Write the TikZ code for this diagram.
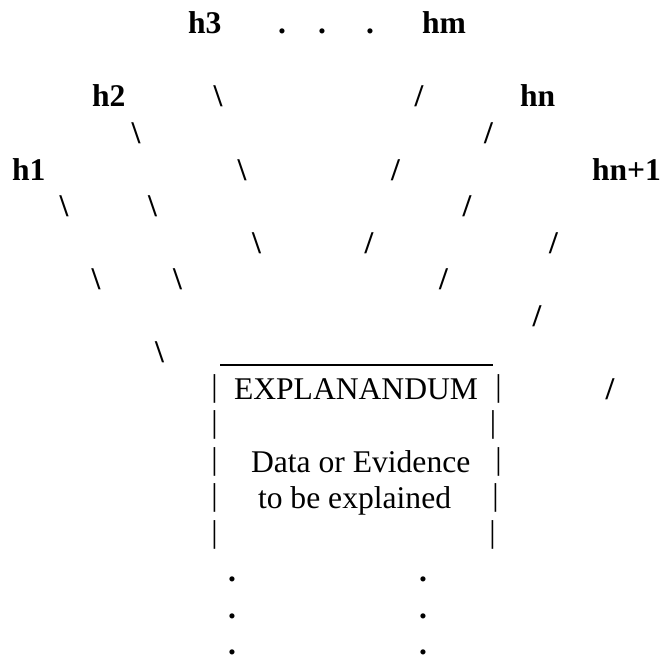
\documentclass[tikz,border=0pt]{standalone}
\usepackage{fontspec}
\setmainfont{Liberation Serif}
\newcommand{\reg}{\fontsize{31.6bp}{36bp}\selectfont}
\newcommand{\bld}{\fontsize{31.6bp}{36bp}\selectfont\bfseries}
\begin{document}
\begin{tikzpicture}[x=1bp,y=-1bp,
  every node/.style={inner sep=0pt,outer sep=0pt},
  lbl/.style={anchor=base west,font=\bld},
  sl/.style={anchor=base,font=\bld},
  txt/.style={anchor=base west,font=\reg},
  bar/.style={anchor=base,font=\reg,yshift=3bp},
  dotb/.style={anchor=base,font=\bld},
  dotr/.style={anchor=base,font=\bld}]
\useasboundingbox (0,0) rectangle (660,660);
% Row A
\node[lbl] (h3) at (188,34) {h3};
\node[dotb] (da1) at (282,34) {.};
\node[dotb] (da2) at (322,34) {.};
\node[dotb] (da3) at (370,34) {.};
\node[lbl] (hm) at (422,34) {hm};
% Row B
\node[lbl] (h2) at (92,107) {h2};
\node[sl] (b1) at (218,107) {\textbackslash};
\node[sl] (b2) at (419,107) {/};
\node[lbl] (hn) at (520,107) {hn};
% Row C
\node[sl] (c1) at (136,143.5) {\textbackslash};
\node[sl] (c2) at (488.5,143.5) {/};
% Row D
\node[lbl] (h1) at (12,180) {h1};
\node[sl] (d1) at (242,180) {\textbackslash};
\node[sl] (d2) at (395.5,180) {/};
\node[lbl] (hn1) at (592,180) {hn+1};
% Row E
\node[sl] (e1) at (64,216.5) {\textbackslash};
\node[sl] (e2) at (152.5,216.5) {\textbackslash};
\node[sl] (e3) at (467,216.5) {/};
% Row F
\node[sl] (f1) at (256.5,253) {\textbackslash};
\node[sl] (f2) at (369,253) {/};
\node[sl] (f3) at (553.5,253) {/};
% Row G
\node[sl] (g1) at (96,289.5) {\textbackslash};
\node[sl] (g2) at (177.5,289.5) {\textbackslash};
\node[sl] (g3) at (443.5,289.5) {/};
% Row H
\node[sl] (hh1) at (537,326) {/};
% Row I
\node[sl] (i1) at (159.5,362.5) {\textbackslash};
\coordinate (ulL) at (220,365);
\coordinate (ulR) at (493,365);
\draw[line width=1.3bp] (ulL) -- (ulR);
% Row J
\node[bar] (j1) at (214.5,399) {|};
\node[txt] (expl) at (234,399) {EXPLANANDUM};
\node[bar] (j2) at (498.5,399) {|};
\node[sl] (j3) at (610,399) {/};
% Row K
\node[bar] (k1) at (214.5,435.5) {|};
\node[bar] (k2) at (493,435.5) {|};
% Row L
\node[bar] (l1) at (214.5,472) {|};
\node[txt] (data) at (251,472) {Data or Evidence};
\node[bar] (l2) at (498.5,472) {|};
% Row M
\node[bar] (m1) at (214.5,508.5) {|};
\node[txt] (tobe) at (258,508.5) {to be explained};
\node[bar] (m2) at (495.5,508.5) {|};
% Row N
\node[bar] (n1) at (214.5,545) {|};
\node[bar] (n2) at (492.5,545) {|};
% Bottom dots
\node[dotr] (p1) at (232,581.5) {.};
\node[dotr] (p2) at (232,618) {.};
\node[dotr] (p3) at (232,654.5) {.};
\node[dotr] (q1) at (423,581.5) {.};
\node[dotr] (q2) at (423,618) {.};
\node[dotr] (q3) at (423,654.5) {.};
\end{tikzpicture}
\end{document}
